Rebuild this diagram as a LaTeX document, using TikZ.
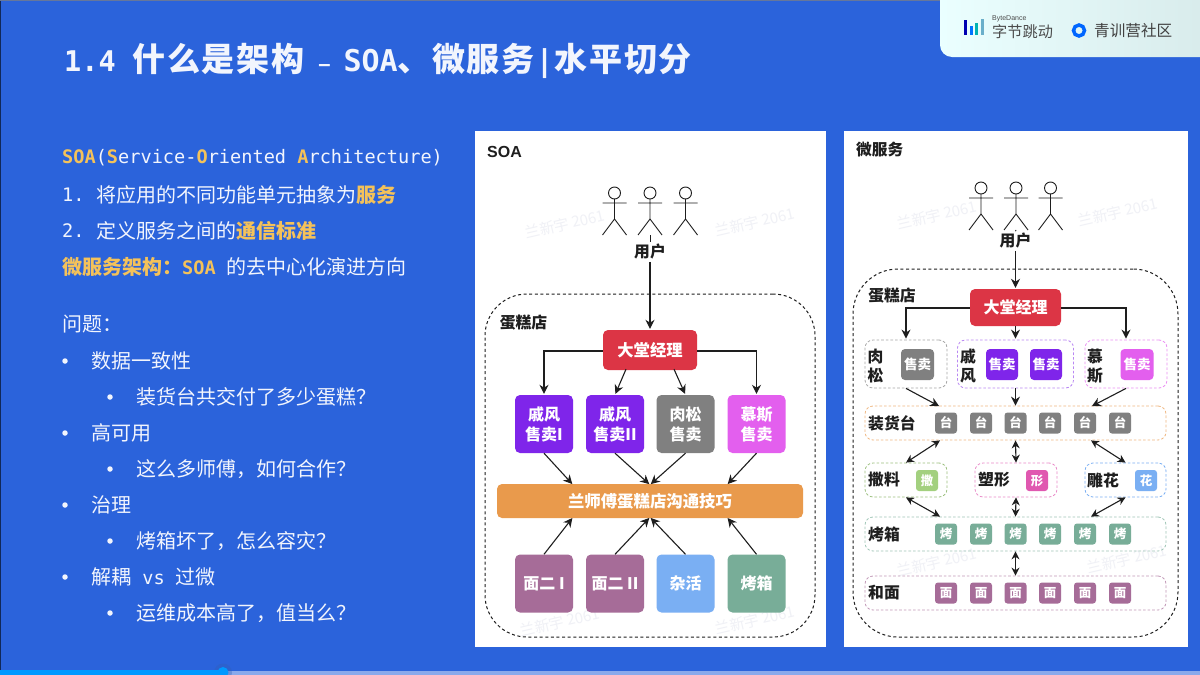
\documentclass[tikz,border=0pt]{standalone}
\usepackage{fontspec}
\setmainfont{Noto Sans CJK SC}
\newfontfamily\monof{DejaVu Sans Mono}
\newfontfamily\titlef[LetterSpace=5]{Noto Sans CJK SC}
\newfontfamily\sansf{Liberation Sans}
\usetikzlibrary{arrows.meta,shapes.geometric}
\newcommand{\fsz}[1]{\fontsize{#1}{#1}\selectfont}
\definecolor{bgblue}{HTML}{2B63DB}
\definecolor{gold}{HTML}{F4C25A}
\definecolor{txtw}{HTML}{F2F5FD}
\definecolor{redm}{HTML}{DC3545}
\definecolor{purp}{HTML}{7F25EA}
\definecolor{gray2}{HTML}{808080}
\definecolor{magen}{HTML}{E35FEE}
\definecolor{orng}{HTML}{E99A4C}
\definecolor{mauve}{HTML}{A66C98}
\definecolor{skyb}{HTML}{7AAFF3}
\definecolor{teal2}{HTML}{78AD98}
\definecolor{lgreen}{HTML}{A3D07F}
\definecolor{pink2}{HTML}{E058B0}
\definecolor{wm}{HTML}{F0F1F6}
\definecolor{ink}{HTML}{1E1E1E}
\tikzset{
  txt/.style={anchor=west,inner sep=0pt,text=txtw,font=\fsz{20}},
  bul/.style={circle,fill=txtw,inner sep=0pt,minimum size=5.5pt},
  box/.style={rounded corners=5pt,inner sep=0pt,align=center,text=white,font=\bfseries\fsz{16}},
  big/.style={box,minimum width=58pt,minimum height=58pt},
  sq/.style={box,minimum width=22pt,minimum height=21pt,rounded corners=3pt,font=\bfseries\fsz{12.5}},
  sale/.style={box,minimum width=33pt,minimum height=31pt,rounded corners=4pt,font=\bfseries\fsz{13.5}},
  lab/.style={inner sep=0pt,text=ink,font=\bfseries\fsz{15.8}},
  grp/.style={draw=#1,dashed,dash pattern=on 2.6pt off 2pt,line width=.8pt,rounded corners=8pt,inner sep=0pt},
  shop/.style={draw=ink,dash pattern=on 3pt off 2.6pt,line width=1pt,inner sep=0pt},
  arr/.style={-{Stealth[length=9pt,width=9pt]},draw=ink,line width=1.1pt,shorten >=1pt},
  darr/.style={{Stealth[length=8pt,width=8pt]}-{Stealth[length=8pt,width=8pt]},draw=ink,line width=1.1pt},
  wmark/.style={inner sep=0pt,text=wm,rotate=13,font=\fsz{15}},
  actor/.style={draw=ink,line width=.9pt},
}
% actor: centre x, head centre y
\newcommand{\actorfig}[3]{%
  \draw[actor] (#1,#2) circle (6);
  \draw[actor] (#1,#2+6) -- (#1,#2+26) (#1-12,#2+10) -- (#1+12,#2+10)
     (#1-12,#2+42) -- (#1,#2+26) -- (#1+12,#2+42);
  \coordinate (#3) at (#1,#2+42);
}
\newcommand{\tmono}[1]{{\monof\bfseries\fsz{30}#1}}
\begin{document}
\begin{tikzpicture}[x=1pt,y=-1pt]
\useasboundingbox (0,0) rectangle (1200,675);
\fill[bgblue] (0,0) rectangle (1200,675);
\fill[black!60!bgblue] (0,0) rectangle (1.2,675);
\fill[gray!70!bgblue] (0,0) rectangle (1200,1);

% logo panel
\shade[left color=white!92!cyan,right color=white!85!teal]
  (940,0) [rounded corners=12pt] -- (940,57) [sharp corners] -- (1200,57) -- (1200,0) -- cycle;
\fill[blue!70!black] (964,20) rectangle (967,35);
\fill[blue!55!cyan] (969.5,26) rectangle (972.5,35);
\fill[teal!60!cyan] (975,23) rectangle (978,35);
\fill[cyan!40!teal!70] (980.5,19) rectangle (983.5,35);
\node (bdt) [anchor=west,inner sep=0pt,text=black!70,font=\sansf\fsz{7}] at (992,18.5) {ByteDance};
\node (bdc) [anchor=west,inner sep=0pt,text=black!70,font=\fsz{15.2}] at (992,31.5) {字节跳动};
\draw[line width=3.5pt,draw=blue!60!cyan] (1079,30.5) circle (5.5);
\node (qxy) [anchor=west,inner sep=0pt,text=black!75,font=\fsz{15.6}] at (1094,31) {青训营社区};

% progress bar
\fill[white!45!bgblue] (222,671) rectangle (1200,675);
\fill[cyan!30!blue!90!white,opacity=.35] (223,672.5) circle (9);
\fill[blue!40!cyan] (0,670) rectangle (222,675);
\fill[blue!40!cyan] (223,672.5) circle (5.5);

% title
\node (title) [anchor=west,inner sep=0pt,text=txtw,font=\titlef\bfseries\fsz{33}] at (64,61)
  {{\monof\bfseries\fsz{28.5}1.4}\hspace{17pt}什么是架构\hspace{14pt}{\sansf\fsz{22}–}\hspace{13pt}\tmono{SOA}、微服务\hspace{1pt}\tmono{|}\hspace{1pt}水平切分};

% left text
\node (l1) [txt] at (62,157.5) {\monof\fsz{18.6}\textcolor{gold}{\bfseries SOA}(\textcolor{gold}{\bfseries S}ervice-\textcolor{gold}{\bfseries O}riented \textcolor{gold}{\bfseries A}rchitecture)};
\node (l2n) [txt,font=\monof\fsz{18.6}] at (62,195) {1.};
\node (l2) [txt] at (96,195) {将应用的不同功能单元抽象为\textcolor{gold}{\bfseries 服务}};
\node (l3n) [txt,font=\monof\fsz{18.6}] at (62,231) {2.};
\node (l3) [txt] at (96,231) {定义服务之间的\textcolor{gold}{\bfseries 通信标准}};
\node (l4) [txt] at (62,267) {\textcolor{gold}{\bfseries 微服务架构：}{\monof\fsz{18.6}\textcolor{gold}{\bfseries SOA} }的去中心化演进方向};
\node (q0) [txt] at (62,324) {问题：};
\node (b1) [bul] at (65,361) {};
\node (q1) [txt] at (91,361) {数据一致性};
\node (b2) [bul] at (110,397) {};
\node (q2) [txt] at (136,397) {装货台共交付了多少蛋糕？};
\node (b3) [bul] at (65,433) {};
\node (q3) [txt] at (91,433) {高可用};
\node (b4) [bul] at (110,469) {};
\node (q4) [txt] at (136,469) {这么多师傅，如何合作？};
\node (b5) [bul] at (65,505) {};
\node (q5) [txt] at (91,505) {治理};
\node (b6) [bul] at (110,541) {};
\node (q6) [txt] at (136,541) {烤箱坏了，怎么容灾？};
\node (b7) [bul] at (65,577) {};
\node (q7) [txt] at (91,577) {解耦{\monof\fsz{18.6} vs }过微};
\node (b8) [bul] at (110,613) {};
\node (q8) [txt] at (136,613) {运维成本高了，值当么？};

% ===== SOA panel =====
\fill[white] (475,131) rectangle (826,647);
\node (wa1) [wmark] at (565,224) {兰新宇 2061};
\node (wa2) [wmark] at (755,222) {兰新宇 2061};
\node (wa3) [wmark] at (560,622) {兰新宇 2061};
\node (wa4) [wmark] at (755,620) {兰新宇 2061};
\node (soat) [anchor=west,inner sep=0pt,text=ink,font=\sansf\bfseries\fsz{16}] at (487,152) {SOA};
\actorfig{614.5}{193}{aa1}
\actorfig{650}{193}{aa2}
\actorfig{685.5}{193}{aa3}
\node (shopA) [shop,rounded corners=42pt,minimum width=330pt,minimum height=343pt] at (650,465.5) {};
\node (shopAl) [lab] at (523.5,323) {蛋糕店};
\node (userA) [lab,fill=white,inner sep=2pt] at (650,252) {用户};
\node (mgrA) [box,fill=redm,minimum width=94pt,minimum height=40pt,font=\bfseries\fsz{16.3}] at (650,350) {大堂经理};
\node (s1) [big,fill=purp] at (544,424) {戚风\\[4pt]售卖I};
\node (s2) [big,fill=purp] at (615,424) {戚风\\[4pt]售卖II};
\node (s3) [big,fill=gray2] at (685.5,424) {肉松\\[4pt]售卖};
\node (s4) [big,fill=magen] at (756.5,424) {慕斯\\[4pt]售卖};
\node (barA) [box,fill=orng,minimum width=306pt,minimum height=34pt,font=\bfseries\fsz{16.4}] at (650,501) {兰师傅蛋糕店沟通技巧};
\node (m1) [big,fill=mauve] at (544,583.5) {面二 I};
\node (m2) [big,fill=mauve] at (615,583.5) {面二 II};
\node (m3) [big,fill=skyb] at (685.5,583.5) {杂活};
\node (m4) [big,fill=teal2] at (756.5,583.5) {烤箱};
\draw[actor] (aa2) -- (userA.north);
\draw[arr] (userA.south) -- (mgrA.north);
\draw[arr] ([yshift=-1pt]mgrA.west) -| (s1.north);
\draw[arr] ([yshift=-1pt]mgrA.east) -| (s4.north);
\draw[arr] ([xshift=-24pt,yshift=1pt]mgrA.south) -- (s2.north);
\draw[arr] ([xshift=24pt,yshift=1pt]mgrA.south) -- (s3.north);
\draw[arr] (s1.south) -- ([xshift=-77pt,yshift=-1pt]barA.north);
\draw[arr] (s2.south) -- ([yshift=-1pt]barA.north);
\draw[arr] (s3.south) -- ([yshift=-1pt]barA.north);
\draw[arr] (s4.south) -- ([xshift=77pt,yshift=-1pt]barA.north);
\draw[arr] (m1.north) -- ([xshift=-77pt,yshift=1pt]barA.south);
\draw[arr] (m2.north) -- ([yshift=1pt]barA.south);
\draw[arr] (m3.north) -- ([yshift=1pt]barA.south);
\draw[arr] (m4.north) -- ([xshift=77pt,yshift=1pt]barA.south);

% ===== microservice panel =====
\fill[white] (844,131) rectangle (1188,647);
\node (wb1) [wmark] at (937,215) {兰新宇 2061};
\node (wb2) [wmark] at (1118,212) {兰新宇 2061};
\node (wb3) [wmark] at (937,562) {兰新宇 2061};
\node (wb4) [wmark] at (1127,559) {兰新宇 2061};
\node (mst) [anchor=west,inner sep=0pt,text=ink,font=\bfseries\fsz{15.7}] at (856,150) {微服务};
\actorfig{981}{188}{ab1}
\actorfig{1016}{188}{ab2}
\actorfig{1050.5}{188}{ab3}
\node (shopB) [shop,rounded corners=45pt,minimum width=325pt,minimum height=368pt] at (1015.5,453) {};
\node (shopBl) [lab] at (892,296) {蛋糕店};
\node (userB) [lab,fill=white,inner sep=2pt] at (1015.5,241) {用户};
\node (mgrB) [box,fill=redm,minimum width=91pt,minimum height=37pt] at (1015.5,307.5) {大堂经理};

% sale groups
\node (g1) [grp=gray2!70,minimum width=82pt,minimum height=48pt] at (906,364) {};
\node (g2) [grp=purp!55,minimum width=116pt,minimum height=48pt] at (1015.5,364) {};
\node (g3) [grp=magen!70,minimum width=82pt,minimum height=48pt] at (1126,364) {};
\node (g1a) [lab,align=center] at (875.5,366) {肉\\[2.7pt]松};
\node (g2a) [lab,align=center] at (968,366) {戚\\[2.7pt]风};
\node (g3a) [lab,align=center] at (1095,366) {慕\\[2.7pt]斯};
\node (g1s) [sale,fill=gray2] at (917.5,364.5) {售卖};
\node (g2s) [sale,fill=purp,minimum width=32pt] at (1002,364.5) {售卖};
\node (g2t) [sale,fill=purp,minimum width=32pt] at (1046,364.5) {售卖};
\node (g3s) [sale,fill=magen] at (1137,364.5) {售卖};

% rows
\node (r1) [grp=orng!70,minimum width=301pt,minimum height=34pt] at (1015.5,423) {};
\node (r1l) [lab,anchor=west] at (868,423) {装货台};
\foreach \i/\x in {1/946,2/981,3/1015.5,4/1050,5/1085,6/1120}
  \node (tai\i) [sq,fill=gray2] at (\x,423) {台};

\node (h1) [grp=lgreen!80!gray,minimum width=82pt,minimum height=34pt] at (906,480) {};
\node (h1l) [lab,anchor=west] at (868,480) {撒料};
\node (h1s) [sq,fill=lgreen] at (927,480.5) {撒};
\node (h2) [grp=pink2!70,minimum width=82pt,minimum height=34pt] at (1016,480) {};
\node (h2l) [lab,anchor=west] at (978,480) {塑形};
\node (h2s) [sq,fill=pink2] at (1037,480.5) {形};
\node (h3) [grp=skyb,minimum width=81pt,minimum height=34pt] at (1125.5,480) {};
\node (h3l) [lab,anchor=west] at (1087,480) {雕花};
\node (h3s) [sq,fill=skyb] at (1146,480.5) {花};

\node (r2) [grp=teal2!70,minimum width=301pt,minimum height=34pt] at (1015.5,534) {};
\node (r2l) [lab,anchor=west] at (868,534) {烤箱};
\foreach \i/\x in {1/946,2/981,3/1015.5,4/1050,5/1085,6/1120}
  \node (kao\i) [sq,fill=teal2] at (\x,534) {烤};

\node (r3) [grp=mauve!70,minimum width=301pt,minimum height=34pt] at (1015.5,593) {};
\node (r3l) [lab,anchor=west] at (868,593) {和面};
\foreach \i/\x in {1/946,2/981,3/1015.5,4/1050,5/1085,6/1120}
  \node (mian\i) [sq,fill=mauve] at (\x,593) {面};

\draw[actor] (ab2) -- (userB.north);
\draw[arr] (userB.south) -- (mgrB.north);
\draw[arr] ([yshift=-.5pt]mgrB.west) -| (g1.north);
\draw[arr] ([yshift=-.5pt]mgrB.east) -| (g3.north);
\draw[arr] (mgrB.south) -- (g2.north);
\draw[arr] (g1.south) -- ([xshift=-75.5pt,yshift=-1pt]r1.north);
\draw[arr] (g2.south) -- ([yshift=-1pt]r1.north);
\draw[arr] (g3.south) -- ([xshift=75.5pt,yshift=-1pt]r1.north);
\draw[darr] ([xshift=-75.5pt]r1.south) -- (h1.north);
\draw[darr] (r1.south) -- (h2.north);
\draw[darr] ([xshift=75.5pt]r1.south) -- (h3.north);
\draw[darr] (h1.south) -- ([xshift=-75.5pt]r2.north);
\draw[darr] (h2.south) -- (r2.north);
\draw[darr] (h3.south) -- ([xshift=75.5pt]r2.north);
\draw[darr] (r2.south) -- (r3.north);
\end{tikzpicture}
\end{document}
